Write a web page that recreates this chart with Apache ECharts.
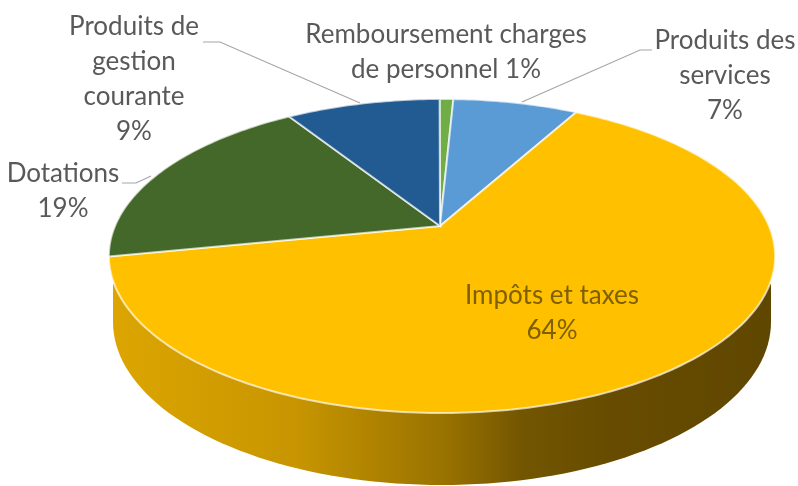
<!DOCTYPE html>
<html>
<head>
<meta charset="utf-8">
<style>
  html, body { margin: 0; padding: 0; background: #fff; }
  #chart { width: 798px; height: 486px; }
</style>
<script src="https://cdn.jsdelivr.net/npm/echarts@6/dist/echarts.min.js"></script>
</head>
<body>
<div id="chart"></div>
<script>
// clockwise from the top of the pie
const categories = [
  'Remboursement charges\nde personnel',
  'Produits des\nservices',
  'Impôts et taxes',
  'Dotations',
  'Produits de\ngestion\ncourante'
];
const values = [0.8, 7.3, 64, 19, 9];
const colors = ['#70AD47', '#5B9BD5', '#FFC000', '#43682A', '#225B92'];
const percentOnSameLine = [true, false, false, false, false];
const labelColors = ['#595959', '#595959', '#7F6000', '#595959', '#595959'];

// label anchors (centre of the text block) and leader lines, in pixels
const labelCentres = [[446, 52], [725, 76], [552, 313], [63, 191], [134, 79]];
const leaders = [
  null,
  [[652, 50], [640, 50], [522, 102]],
  null,
  [[122, 183], [136, 183], [151, 176]],
  [[203, 42], [220, 42], [360, 103]]
];

// perspective of the tilted disc
const apex = [440, 226];
const rimShift = 2;
const startAngle = -0.5;
const discA = 327;
const discB = 151.3;
const tilt = 0.191;

const total = values.reduce((a, b) => a + b, 0);

function project(deg) {
  const rad = deg * Math.PI / 180;
  const X = Math.sin(rad);
  const Y = Math.cos(rad);
  const w = 1 + tilt * Y;
  return [apex[0] + rimShift + discA * X / w, apex[1] - discB * Y / w];
}

function renderSlice(params, api) {
  const i = params.dataIndex;
  const before = values.slice(0, i).reduce((a, b) => a + b, 0);
  const start = startAngle + before / total * 360;
  const end = startAngle + (before + api.value(0)) / total * 360;

  const points = [apex.slice()];
  for (let d = start; d < end; d += 1) points.push(project(d));
  points.push(project(end));

  const children = [{
    type: 'polygon',
    shape: { points },
    style: { fill: colors[i], stroke: 'rgba(255,255,255,0.68)', lineWidth: 2 }
  }];

  if (leaders[i]) {
    children.push({
      type: 'polyline',
      shape: { points: leaders[i] },
      style: { fill: null, stroke: '#A6A6A6', lineWidth: 1.2 }
    });
  }

  const pct = Math.round(api.value(0)) + '%';
  children.push({
    type: 'text',
    style: {
      text: categories[i] + (percentOnSameLine[i] ? ' ' : '\n') + pct,
      x: labelCentres[i][0],
      y: labelCentres[i][1],
      align: 'center',
      verticalAlign: 'middle',
      lineHeight: 35,
      font: '26px Lato',
      fill: labelColors[i]
    }
  });
  return { type: 'group', children };
}

function renderWall() {
  // lower outline of the side wall
  const cx = 442, cy = 322, rx = 329, ry = 163;
  const points = [[113, 284]];
  for (let d = 180; d >= 0; d -= 2) {
    const rad = d * Math.PI / 180;
    points.push([cx + rx * Math.cos(rad), cy + ry * Math.sin(rad)]);
  }
  points.push([771, 284]);
  return {
    type: 'polygon',
    shape: { points },
    style: {
      fill: new echarts.graphic.LinearGradient(0, 0, 1, 0, [
        { offset: 0, color: '#DCA500' },
        { offset: 0.28, color: '#C79500' },
        { offset: 0.5, color: '#9A7300' },
        { offset: 0.62, color: '#735600' },
        { offset: 0.75, color: '#674C00' },
        { offset: 1, color: '#604700' }
      ])
    }
  };
}

const chart = echarts.init(document.getElementById('chart'));
chart.setOption({
  animation: false,
  backgroundColor: '#fff',
  series: [
    {
      type: 'custom',
      coordinateSystem: 'none',
      name: 'wall',
      z: 1,
      silent: true,
      data: [0],
      renderItem: renderWall
    },
    {
      type: 'custom',
      coordinateSystem: 'none',
      name: 'slices',
      z: 2,
      data: values,
      renderItem: renderSlice
    }
  ]
});
window.addEventListener('resize', () => chart.resize());
</script>
</body>
</html>
